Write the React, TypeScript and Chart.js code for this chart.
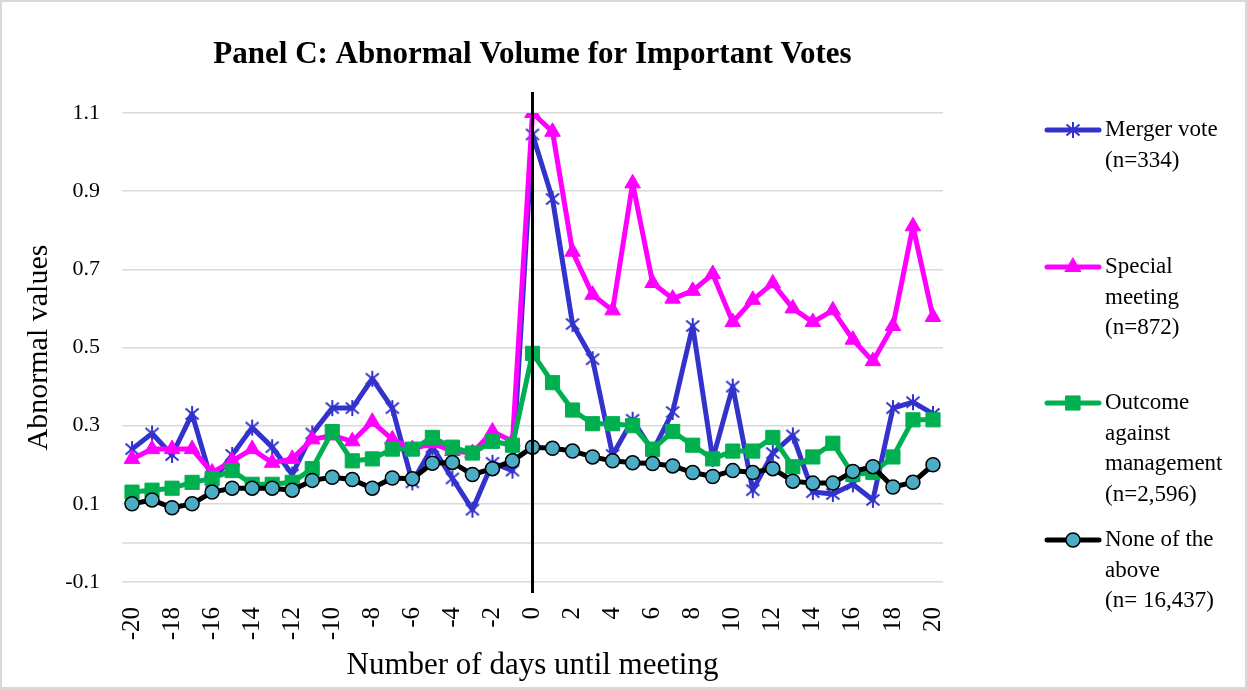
import React, { useEffect, useRef } from "react";
import { Chart, registerables } from "chart.js";
import { drawPoint } from "chart.js/helpers";

Chart.register(...registerables);

const days = ["-20","-19","-18","-17","-16","-15","-14","-13","-12","-11","-10","-9","-8","-7","-6","-5","-4","-3","-2","-1","0","1","2","3","4","5","6","7","8","9","10","11","12","13","14","15","16","17","18","19","20"];
const shownTicks = ["-20","-18","-16","-14","-12","-10","-8","-6","-4","-2","0","2","4","6","8","10","12","14","16","18","20"];
const yTicks = [-0.1, 0.1, 0.3, 0.5, 0.7, 0.9, 1.1];

const mergerVote = [0.24,0.28,0.225,0.33,0.155,0.225,0.295,0.245,0.175,0.28,0.345,0.345,0.42,0.345,0.155,0.245,0.165,0.085,0.205,0.185,1.045,0.88,0.56,0.47,0.225,0.315,0.235,0.335,0.555,0.215,0.40,0.135,0.23,0.275,0.13,0.125,0.15,0.11,0.345,0.36,0.33];
const specialMeeting = [0.215,0.24,0.24,0.24,0.18,0.21,0.24,0.205,0.215,0.265,0.275,0.26,0.31,0.265,0.24,0.255,0.235,0.23,0.285,0.26,1.10,1.052,0.745,0.635,0.595,0.92,0.665,0.625,0.645,0.688,0.565,0.622,0.664,0.60,0.565,0.595,0.52,0.465,0.555,0.81,0.578];
const outcomeAgainst = [0.13,0.135,0.14,0.155,0.165,0.185,0.15,0.15,0.155,0.19,0.285,0.21,0.215,0.24,0.24,0.27,0.245,0.23,0.26,0.25,0.485,0.41,0.34,0.305,0.305,0.30,0.24,0.285,0.25,0.215,0.235,0.235,0.27,0.195,0.22,0.255,0.175,0.18,0.22,0.315,0.315];
const noneAbove = [0.10,0.11,0.09,0.10,0.13,0.14,0.14,0.14,0.135,0.16,0.168,0.162,0.14,0.166,0.164,0.204,0.206,0.175,0.19,0.21,0.245,0.242,0.235,0.22,0.21,0.205,0.203,0.197,0.18,0.17,0.185,0.18,0.19,0.158,0.153,0.153,0.183,0.195,0.143,0.155,0.20];

const legendLabels = [
  ["Merger vote", "(n=334)"],
  ["Special", "meeting", "(n=872)"],
  ["Outcome", "against", "management", "(n=2,596)"],
  ["None of the", "above", "(n= 16,437)"],
];

const FONT = "'Liberation Serif', 'Times New Roman', serif";

function makeStar(color: string) {
  const c = document.createElement("canvas");
  c.width = 18;
  c.height = 18;
  const g = c.getContext("2d")!;
  g.strokeStyle = color;
  g.lineWidth = 2;
  g.beginPath();
  g.moveTo(9, 1); g.lineTo(9, 17);
  g.moveTo(2.5, 3.5); g.lineTo(15.5, 14.5);
  g.moveTo(15.5, 3.5); g.lineTo(2.5, 14.5);
  g.stroke();
  return c;
}

export default function App() {
  const ref = useRef<HTMLCanvasElement>(null);

  useEffect(() => {
    document.body.style.margin = "0";
    const star = makeStar("#3333CC");

    const styles = [
      { color: "#3333CC", fill: "#3333CC", stroke: "#3333CC", pointStyle: star as any, radius: 8, bw: 2 },
      { color: "#FF00FF", fill: "#FF00FF", stroke: "#FF00FF", pointStyle: "triangle", radius: 9, bw: 1 },
      { color: "#00B050", fill: "#00B050", stroke: "#00B050", pointStyle: "rect", radius: 10, bw: 1 },
      { color: "#000000", fill: "#4BACC6", stroke: "#000000", pointStyle: "circle", radius: 7, bw: 1.5 },
    ];
    const series = [mergerVote, specialMeeting, outcomeAgainst, noneAbove];

    const customPlugin = {
      id: "custom",
      beforeDatasetsDraw(chart: any) {
        const { ctx, chartArea, scales } = chart;
        const y0 = scales.y.getPixelForValue(0);
        ctx.save();
        ctx.strokeStyle = "#d9d9d9";
        ctx.lineWidth = 1.5;
        ctx.beginPath();
        ctx.moveTo(chartArea.left, y0);
        ctx.lineTo(chartArea.right, y0);
        ctx.stroke();
        ctx.restore();
      },
      afterDatasetsDraw(chart: any) {
        const { ctx, chartArea, scales } = chart;
        const x = scales.x.getPixelForValue(days.indexOf("0"));
        ctx.save();
        ctx.strokeStyle = "#000";
        ctx.lineWidth = 3;
        ctx.beginPath();
        ctx.moveTo(x, chartArea.top - 21);
        ctx.lineTo(x, chartArea.bottom + 11);
        ctx.stroke();
        ctx.restore();
      },
      afterDraw(chart: any) {
        const { ctx, width, height } = chart;
        ctx.save();
        const entryY = [130, 267, 403, 540];
        legendLabels.forEach((lines, i) => {
          const s = styles[i];
          const y = entryY[i];
          ctx.strokeStyle = s.color;
          ctx.lineWidth = 5;
          ctx.lineCap = "round";
          ctx.beginPath();
          ctx.moveTo(1047, y);
          ctx.lineTo(1099, y);
          ctx.stroke();
          ctx.fillStyle = s.fill;
          ctx.strokeStyle = s.stroke;
          ctx.lineWidth = s.bw;
          drawPoint(ctx, { pointStyle: s.pointStyle, rotation: 0, radius: s.radius, borderWidth: s.bw }, 1073, y);
          ctx.fillStyle = "#000";
          ctx.font = `23px ${FONT}`;
          ctx.textAlign = "left";
          ctx.textBaseline = "middle";
          lines.forEach((t, j) => ctx.fillText(t, 1105, y + j * 30.5));
        });
        ctx.strokeStyle = "#d9d9d9";
        ctx.lineWidth = 2;
        ctx.strokeRect(1, 1, width - 2, height - 2);
        ctx.restore();
      },
    };

    const chart = new Chart(ref.current!, {
      type: "line",
      data: {
        labels: days,
        datasets: series.map((d, i) => ({
          label: legendLabels[i].join(" "),
          data: d,
          borderColor: styles[i].color,
          backgroundColor: styles[i].fill,
          borderWidth: 5,
          borderJoinStyle: "round",
          borderCapStyle: "round",
          tension: 0,
          fill: false,
          pointStyle: styles[i].pointStyle,
          pointRadius: styles[i].radius,
          pointBackgroundColor: styles[i].fill,
          pointBorderColor: styles[i].stroke,
          pointBorderWidth: styles[i].bw,
          order: 4 - i,
        })) as any,
      },
      options: {
        responsive: false,
        devicePixelRatio: 1,
        animation: false,
        layout: { padding: { left: 0, right: 304, top: 0, bottom: 0 } },
        plugins: {
          legend: { display: false },
          tooltip: { enabled: false },
          title: {
            display: true,
            text: "Panel C: Abnormal Volume for Important Votes",
            fullSize: false,
            color: "#000",
            font: { family: FONT, size: 31, weight: "bold" },
            padding: { top: 36, bottom: 39.8 },
          },
        },
        scales: {
          x: {
            type: "category",
            offset: true,
            grid: { display: false },
            border: { display: false },
            ticks: {
              autoSkip: false,
              maxRotation: 90,
              minRotation: 90,
              padding: 17,
              color: "#000",
              font: { family: FONT, size: 25 },
              callback: (_v: any, i: number) => (shownTicks.includes(days[i]) ? days[i] : ""),
            },
            title: {
              display: true,
              text: "Number of days until meeting",
              color: "#000",
              font: { family: FONT, size: 31 },
              padding: { top: 0, bottom: 5 },
            },
            afterFit: (s: any) => { s.height = 107; },
          },
          y: {
            type: "linear",
            min: -0.1,
            max: 1.1,
            afterBuildTicks: (s: any) => { s.ticks = yTicks.map((v) => ({ value: v })); },
            grid: { color: "#d9d9d9", lineWidth: 1.5, drawTicks: false },
            border: { display: false },
            ticks: {
              padding: 22,
              color: "#000",
              font: { family: FONT, size: 22 },
              callback: (v: any) => Number(v).toFixed(1),
            },
            title: {
              display: true,
              text: "Abnormal values",
              color: "#000",
              font: { family: FONT, size: 30 },
              padding: { top: 21, bottom: 0 },
            },
            afterFit: (s: any) => { s.width = 122; },
          },
        },
      } as any,
      plugins: [customPlugin],
    });
    return () => chart.destroy();
  }, []);

  return (
    <div style={{ width: 1247, height: 689 }}>
      <canvas ref={ref} width={1247} height={689} style={{ display: "block" }} />
    </div>
  );
}
